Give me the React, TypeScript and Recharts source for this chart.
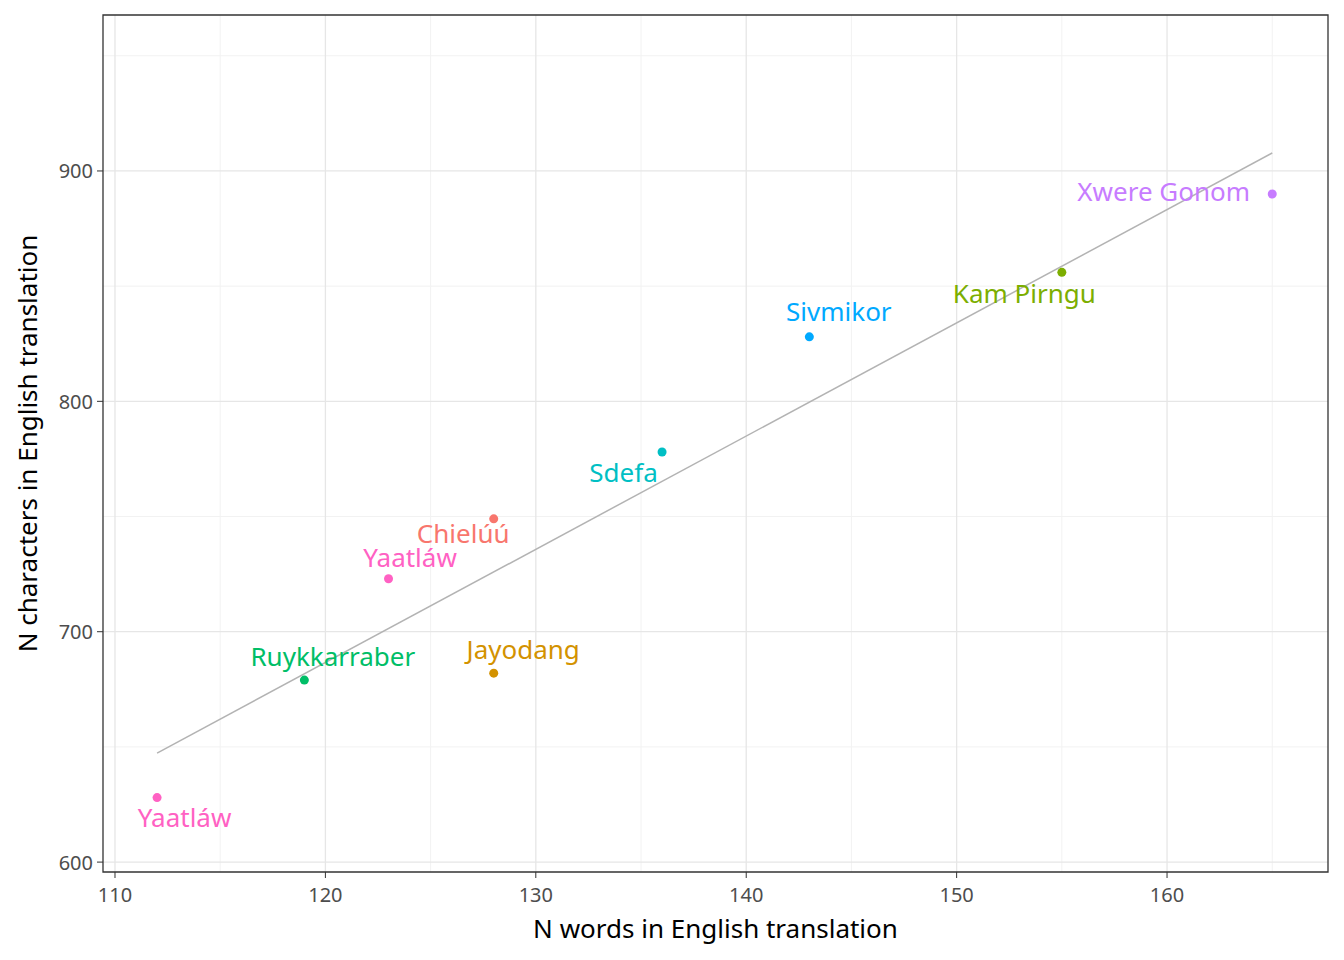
import { ScatterChart, Scatter, XAxis, YAxis, CartesianGrid, ReferenceLine, ReferenceArea, LabelList } from 'recharts';

const names = ['Chielúú', 'Yaatláw', 'Ruykkarraber', 'Jayodang', 'Sdefa', 'Sivmikor', 'Kam Pirngu', 'Xwere Gonom', 'Yaatláw'];
const words = [128, 123, 119, 128, 136, 143, 155, 165, 112];
const chars = [749, 723, 679, 682, 778, 828, 856, 890, 628];
const colors = ['#F8766D', '#FF61C3', '#00BE67', '#D39200', '#00BFC4', '#00A9FF', '#7CAE00', '#C77CFF', '#FF61C3'];
// label offsets (px) from the point, ggrepel style
const labelDx = [-26, 26, 33, 34, -34, 34, -33, -104, 32];
const labelDy = [19, -17, -20, -20, 24, -21, 25, 2, 24];

const fitX = [112, 165];
const fitY = [647.3, 907.8];

const xTicks = [110, 120, 130, 140, 150, 160];
const xMinor = [115, 125, 135, 145, 155, 165];
const yTicks = [600, 700, 800, 900];
const yMinor = [650, 750, 850, 950];

const X_DOMAIN: [number, number] = [109.43, 167.65];
const Y_DOMAIN: [number, number] = [595.7, 967.7];
const FONT = '"Noto Sans", sans-serif';

const data = names.map((n, i) => ({ name: n, x: words[i], y: chars[i], color: colors[i], dx: labelDx[i], dy: labelDy[i] }));

const Dot = (p: any) => <circle cx={p.cx} cy={p.cy} r={4.5} fill={p.payload.color} />;

const PointLabel = (p: any) => {
  const d = data[p.index];
  return (
    <text x={p.x + d.dx} y={p.y + d.dy} textAnchor="middle" dominantBaseline="central"
      fill={d.color} fontSize={26} fontFamily={FONT}>{d.name}</text>
  );
};

const XTick = (p: any) => (
  <g>
    <line x1={p.x} x2={p.x} y1={p.y - 8} y2={p.y - 2} stroke="#333" />
    <text x={p.x} y={p.y + 22} textAnchor="middle" fill="#4d4d4d" fontSize={20} fontFamily={FONT}>{p.payload.value}</text>
  </g>
);
const YTick = (p: any) => (
  <g>
    <line x1={p.x + 2} x2={p.x + 8} y1={p.y} y2={p.y} stroke="#333" />
    <text x={p.x - 2} y={p.y} textAnchor="end" dominantBaseline="central" fill="#4d4d4d" fontSize={20} fontFamily={FONT}>{p.payload.value}</text>
  </g>
);

export default function App() {
  return (
    <div style={{ position: 'absolute', left: 0, top: 0, background: '#fff' }}>
      <ScatterChart width={1344} height={960} margin={{ top: 15, right: 16, left: 0, bottom: 0 }}>
        <CartesianGrid horizontalValues={yMinor} verticalValues={xMinor} stroke="#f2f2f2" strokeWidth={1} />
        <CartesianGrid horizontalValues={yTicks} verticalValues={xTicks} stroke="#e6e6e6" strokeWidth={1.3} />
        <XAxis type="number" dataKey="x" domain={X_DOMAIN} ticks={xTicks} height={88} axisLine={false} tickLine={false}
          tick={<XTick />} allowDataOverflow
          label={{ value: 'N words in English translation', position: 'insideBottom', offset: 22, fill: '#000', fontSize: 26, fontFamily: FONT }} />
        <YAxis type="number" dataKey="y" domain={Y_DOMAIN} ticks={yTicks} width={103} axisLine={false} tickLine={false}
          tick={<YTick />} allowDataOverflow
          label={{ value: 'N characters in English translation', angle: -90, position: 'insideLeft', offset: 28, fill: '#000', fontSize: 26, fontFamily: FONT, style: { textAnchor: 'middle' } }} />
        <ReferenceLine segment={[{ x: fitX[0], y: fitY[0] }, { x: fitX[1], y: fitY[1] }]} stroke="#b3b3b3" strokeWidth={1.5} />
        <Scatter data={data} shape={<Dot />} isAnimationActive={false}>
          <LabelList dataKey="name" content={<PointLabel />} />
        </Scatter>
        <ReferenceArea x1={X_DOMAIN[0]} x2={X_DOMAIN[1]} y1={Y_DOMAIN[0]} y2={Y_DOMAIN[1]} fill="none" stroke="#333" strokeWidth={1.3} ifOverflow="extendDomain" />
      </ScatterChart>
    </div>
  );
}
